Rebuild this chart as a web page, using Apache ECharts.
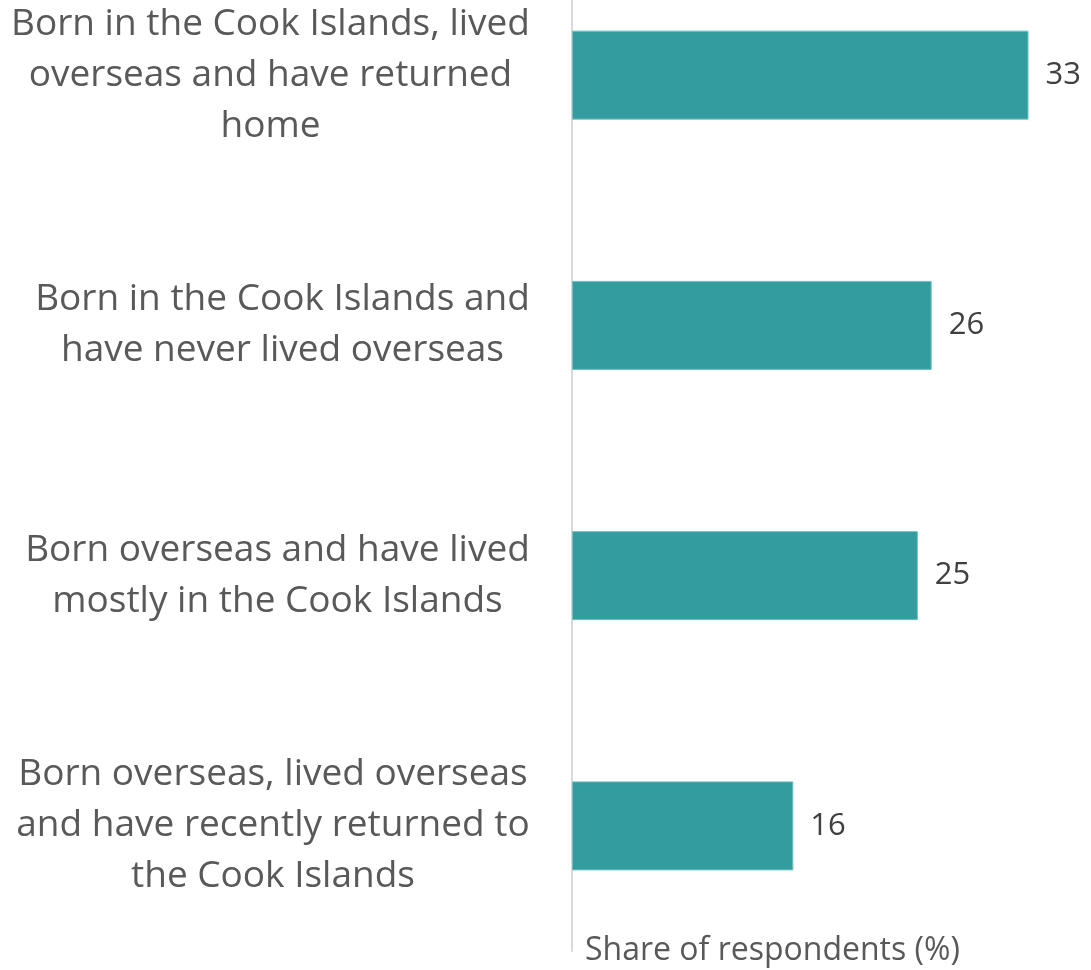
<!DOCTYPE html>
<html>
<head>
<meta charset="utf-8">
<script src="https://cdn.jsdelivr.net/npm/echarts@6/dist/echarts.min.js"></script>
<style>
  html, body { margin: 0; padding: 0; background: #ffffff; }
  #chart { width: 1091px; height: 970px; }
</style>
</head>
<body>
<div id="chart"></div>
<script>
// Categories, top to bottom, with their line breaks
const categories = [
  'Born in the Cook Islands, lived\noverseas and have returned\nhome',
  'Born in the Cook Islands and\nhave never lived overseas',
  'Born overseas and have lived\nmostly in the Cook Islands',
  'Born overseas, lived overseas\nand have recently returned to\nthe Cook Islands'
];
// Share of respondents (%)
const shares = [33, 26, 25, 16];
const axisTitle = 'Share of respondents (%)';

const FONT = '"Open Sans", "Noto Sans", sans-serif';
const CAT_SIZE = 37;

// Width of the longest line of each label, so the lines can be centred within their block
const measureCtx = document.createElement('canvas').getContext('2d');
measureCtx.font = CAT_SIZE + 'px "Open Sans"';
const rich = {};
categories.forEach((c, i) => {
  const w = Math.max(...c.split('\n').map(l => measureCtx.measureText(l).width));
  rich['c' + i] = {
    width: Math.ceil(w), align: 'center',
    fontFamily: FONT, fontSize: CAT_SIZE, lineHeight: 51, color: '#595959'
  };
});

const chart = echarts.init(document.getElementById('chart'));
chart.setOption({
  animation: false,
  backgroundColor: '#ffffff',
  grid: { left: 572, top: -50, width: 498, height: 1001, outerBoundsMode: 'none', containLabel: false },
  xAxis: {
    type: 'value', min: 0, max: 36, show: false
  },
  yAxis: {
    type: 'category',
    inverse: true,
    data: categories,
    axisLine: { show: true, lineStyle: { color: '#d9d9d9', width: 2 } },
    axisTick: { show: false },
    axisLabel: {
      margin: 42,
      align: 'right',
      formatter: (v, idx) => v.split('\n').map(l => '{c' + idx + '|' + l + '}').join('\n'),
      rich: rich
    }
  },
  series: [{
    type: 'bar',
    data: shares,
    barWidth: 89,
    itemStyle: { color: '#339c9e', borderColor: '#6fc0c0', borderWidth: 1 },
    label: {
      show: true, position: 'right', distance: 17,
      fontFamily: FONT, fontSize: 31, color: '#404040'
    }
  }],
  graphic: [{
    type: 'text',
    x: 585, y: 951,
    style: { text: axisTitle, font: '32px ' + FONT, fill: '#595959', verticalAlign: 'middle' }
  }]
});
</script>
</body>
</html>
